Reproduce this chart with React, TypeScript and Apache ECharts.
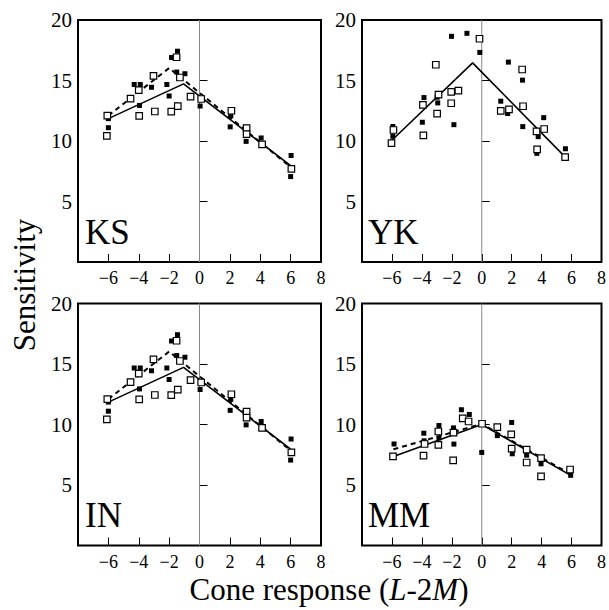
import React, { useEffect, useRef } from 'react';
import * as echarts from 'echarts';

// ---- Data ----
const xTicks = [-8, -6, -4, -2, 0, 2, 4, 6, 8];
const yTicks = [0, 5, 10, 15, 20];
const panelNames = ['KS', 'YK', 'IN', 'MM'];

const ksFilled = [[-6, 11.85], [-6, 11.1], [-4.3, 14.67], [-3.9, 14.67], [-3.95, 12.94], [-3.16, 14.44], [-2.15, 14.67], [-2.0, 13.72], [-1.84, 16.9], [-1.45, 17.42], [-1.5, 15.7], [-0.96, 15.56], [0.04, 12.89], [2.02, 11.17], [2.06, 12.08], [3.07, 9.97], [4.06, 10.25], [6.03, 8.8], [6.0, 7.06]];
const ksOpen = [[-6.07, 12.1], [-6.1, 10.42], [-4.54, 13.5], [-4.0, 14.2], [-3.97, 12.08], [-3.03, 15.39], [-2.94, 12.44], [-1.86, 12.42], [-1.51, 16.92], [-1.43, 12.89], [-1.29, 15.25], [-0.59, 13.67], [0.11, 13.47], [2.1, 12.5], [3.1, 11.06], [3.1, 10.56], [4.12, 9.72], [6.05, 7.69]];
const ksSolid = [[-6, 11.85], [-1.05, 14.72], [6.0, 7.97]];
const ksDashed = [[-6, 12.1], [-2.0, 16.03], [6.0, 7.85]];

const ykFilled = [[-5.94, 11.2], [-5.94, 10.39], [-3.86, 13.59], [-3.97, 11.55], [-2.98, 13.62], [-2.94, 13.15], [-2.02, 18.65], [-1.86, 11.35], [-0.99, 18.9], [-0.13, 17.32], [1.27, 13.29], [1.78, 16.52], [1.73, 12.27], [2.72, 15.03], [2.74, 11.19], [3.68, 8.98], [3.77, 10.36], [4.14, 11.93], [5.59, 9.36]];
const ykOpen = [[-6.03, 9.83], [-5.9, 10.91], [-3.93, 12.98], [-3.9, 10.47], [-3.07, 16.3], [-2.89, 13.84], [-2.98, 12.27], [-2.04, 14.06], [-2.04, 13.12], [-1.56, 14.17], [-0.15, 18.45], [1.27, 12.49], [1.82, 12.62], [2.7, 15.91], [2.76, 12.87], [3.66, 10.8], [3.7, 9.31], [4.17, 10.99], [5.57, 8.67]];
const ykSolid = [[-6, 10.06], [-0.61, 16.46], [5.53, 8.73]];
const ykDashed: number[][] = [];

const inFilled = [[-6, 11.85], [-6, 11.1], [-4.3, 14.67], [-3.9, 14.67], [-3.95, 12.94], [-3.16, 14.44], [-2.15, 14.67], [-2.0, 13.72], [-1.84, 16.9], [-1.45, 17.42], [-1.5, 15.7], [-0.96, 15.56], [0.04, 12.89], [2.02, 11.17], [2.06, 12.08], [3.07, 9.97], [4.06, 10.25], [6.03, 8.8], [6.0, 7.06]];
const inOpen = [[-6.07, 12.1], [-6.1, 10.42], [-4.54, 13.5], [-4.0, 14.2], [-3.97, 12.08], [-3.03, 15.39], [-2.94, 12.44], [-1.86, 12.42], [-1.51, 16.92], [-1.43, 12.89], [-1.29, 15.25], [-0.59, 13.67], [0.11, 13.47], [2.1, 12.5], [3.1, 11.06], [3.1, 10.56], [4.12, 9.72], [6.05, 7.69]];
const inSolid = [[-6, 11.85], [-1.05, 14.72], [6.0, 7.97]];
const inDashed = [[-6, 12.1], [-2.0, 16.03], [6.0, 7.85]];

const mmFilled = [[-5.86, 8.39], [-3.87, 9.28], [-3.85, 8.65], [-2.86, 9.92], [-2.86, 8.89], [-1.89, 9.72], [-1.86, 8.38], [-1.36, 11.22], [-0.83, 10.83], [0, 7.69], [1.04, 9.08], [2.0, 10.17], [2.04, 7.58], [3.0, 7.47], [3.96, 6.75], [5.94, 5.8]];
const mmOpen = [[-5.93, 7.36], [-3.82, 8.39], [-3.89, 7.42], [-2.9, 9.42], [-2.9, 8.31], [-1.89, 9.33], [-1.91, 7.03], [-1.27, 10.5], [-0.88, 10.25], [0.02, 10.06], [1.04, 9.78], [1.97, 9.19], [2.0, 8.0], [3.0, 7.92], [3.0, 6.86], [3.96, 7.22], [3.96, 5.72], [5.9, 6.28]];
const mmSolid = [[-5.9, 7.36], [0, 10.0], [5.94, 5.8]];
const mmDashed = [[-5.9, 7.95], [0, 10.05], [6.0, 5.85]];

const zeroLine = [[0, 0], [0, 20]];

const panels = [
  { filled: ksFilled, open: ksOpen, solid: ksSolid, dashed: ksDashed },
  { filled: ykFilled, open: ykOpen, solid: ykSolid, dashed: ykDashed },
  { filled: inFilled, open: inOpen, solid: inSolid, dashed: inDashed },
  { filled: mmFilled, open: mmOpen, solid: mmSolid, dashed: mmDashed },
];

const FONT = 'Liberation Serif, Times New Roman, serif';

// layout
const grids = [
  { left: 78, top: 20, width: 243, height: 242 },
  { left: 362, top: 20, width: 242, height: 242 },
  { left: 78, top: 303.5, width: 243, height: 242 },
  { left: 362, top: 303.5, width: 242, height: 242 },
];
const labelPos = [
  { x: 85, y: 250 },
  { x: 368, y: 250 },
  { x: 85, y: 533 },
  { x: 368, y: 533 },
];

export default function App() {
  const ref = useRef<HTMLDivElement>(null);
  useEffect(() => {
    if (!ref.current) return;
    const chart = echarts.init(ref.current, undefined, { renderer: 'svg' });
    const xAxis: any[] = [];
    const yAxis: any[] = [];
    const series: any[] = [];
    panels.forEach((p, i) => {
      xAxis.push({
        type: 'value', gridIndex: i, min: xTicks[0], max: xTicks[xTicks.length - 1], interval: 2,
        axisLine: { show: false },
        axisTick: { show: true, inside: true, length: 8, lineStyle: { color: '#000', width: 1 } },
        splitLine: { show: false },
        axisLabel: {
          margin: 7, color: '#000', fontFamily: FONT, fontSize: 18,
          formatter: (v: number) => (v === xTicks[0] ? '' : v < 0 ? '\u2212' + Math.abs(v) : String(v)),
        },
      });
      yAxis.push({
        type: 'value', gridIndex: i, min: yTicks[0], max: yTicks[yTicks.length - 1], interval: 5,
        axisLine: { show: false },
        axisTick: { show: true, inside: true, length: 8, lineStyle: { color: '#000', width: 1 } },
        splitLine: { show: false },
        axisLabel: {
          margin: 6, color: '#000', fontFamily: FONT, fontSize: 21,
          formatter: (v: number) => (v === yTicks[0] ? '' : String(v)),
        },
      });
      series.push({
        type: 'line', xAxisIndex: i, yAxisIndex: i, data: zeroLine, symbol: 'none', z: 1,
        lineStyle: { color: '#888', width: 1 },
      });
      series.push({
        type: 'line', xAxisIndex: i, yAxisIndex: i, data: p.solid, symbol: 'none', z: 2,
        lineStyle: { color: '#000', width: 1.6 },
      });
      if (p.dashed.length) {
        series.push({
          type: 'line', xAxisIndex: i, yAxisIndex: i, data: p.dashed, symbol: 'none', z: 2,
          lineStyle: { color: '#000', width: 2, type: [5, 4] },
        });
      }
      series.push({
        type: 'scatter', xAxisIndex: i, yAxisIndex: i, data: p.filled, symbol: 'rect', symbolSize: 5, z: 3,
        itemStyle: { color: '#000', opacity: 1 },
      });
      series.push({
        type: 'scatter', xAxisIndex: i, yAxisIndex: i, data: p.open, symbol: 'rect', symbolSize: 6.5, z: 4,
        itemStyle: { color: '#fff', borderColor: '#000', borderWidth: 1.2, opacity: 1 },
      });
    });
    const graphic: any[] = panelNames.map((name, i) => ({
      type: 'text', x: labelPos[i].x, y: labelPos[i].y, z: 10,
      style: { text: name, fill: '#000', fontFamily: FONT, fontSize: 35, verticalAlign: 'bottom', align: 'left' },
    }));
    graphic.push({
      type: 'text', x: 24, y: 285, rotation: Math.PI / 2, z: 10,
      style: { text: 'Sensitivity', fill: '#000', fontFamily: FONT, fontSize: 31, align: 'center', verticalAlign: 'middle' },
    });
    graphic.push({
      type: 'text', x: 329, y: 589, z: 10,
      style: {
        text: 'Cone response ({i|L}-2{i|M})', fill: '#000', fontFamily: FONT, fontSize: 31,
        align: 'center', verticalAlign: 'middle',
        rich: { i: { fontStyle: 'italic', fontFamily: FONT, fontSize: 31, fill: '#000' } },
      },
    });
    chart.setOption({
      animation: false,
      backgroundColor: '#fff',
      grid: grids.map((g) => ({ ...g, show: true, borderColor: '#000', borderWidth: 2, backgroundColor: 'transparent' })),
      xAxis,
      yAxis,
      series,
      graphic,
    });
    return () => chart.dispose();
  }, []);
  return <div ref={ref} style={{ position: 'fixed', left: 0, top: 0, width: 609, height: 610 }} />;
}
